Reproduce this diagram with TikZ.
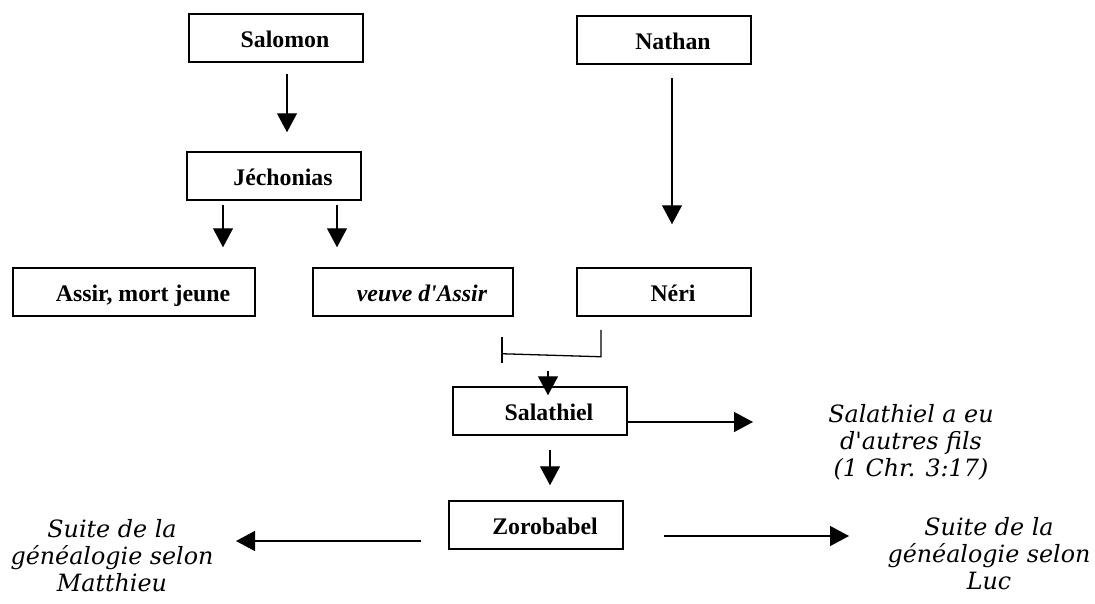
\documentclass[tikz,border=0pt]{standalone}
\usepackage{fontspec}
\newfontfamily\boxfont{Liberation Serif}
\newfontfamily\notefont{DejaVu Serif}
\usetikzlibrary{arrows.meta}
\begin{document}
\begin{tikzpicture}[x=1pt,y=-1pt,
  person/.style={draw, line width=1.5pt, minimum height=48pt, inner sep=0pt,
    font=\boxfont\bfseries\fontsize{23.8}{28}\selectfont,
    text height=18pt, text depth=0pt,
    execute at begin node={\hspace*{18pt}}},
  note/.style={align=center, inner sep=0pt,
    font=\notefont\itshape\fontsize{23.8}{27}\selectfont},
  arr/.style={line width=1.3pt, -{Triangle[width=20pt,length=19pt]}},
  plain/.style={line width=1.3pt}]
\useasboundingbox (0,0) rectangle (1095,603);

\node[person, minimum width=174pt] (salomon)   at (276,38)  {Salomon};
\node[person, minimum width=174pt] (nathan)    at (664,40)  {Nathan};
\node[person, minimum width=174pt] (jechonias) at (274,176) {Jéchonias};
\node[person, minimum width=242pt] (assir)     at (134,292) {Assir, mort jeune};
\node[person, minimum width=200pt] (veuve)     at (413,292) {\itshape veuve d'Assir};
\node[person, minimum width=174pt] (neri)      at (664,292) {Néri};
\node[person, minimum width=174pt] (salathiel) at (540,411) {Salathiel};
\node[person, minimum width=174pt] (zorobabel) at (536,525) {Zorobabel};

\node[note] (autres)   at (911,442) {Salathiel a eu\\d'autres fils\\(1 Chr. 3:17)};
\node[note] (luc)      at (989,554) {Suite de la\\généalogie selon\\Luc};
\node[note] (matthieu) at (112,556) {Suite de la\\généalogie selon\\Matthieu};

\draw[arr] ([shift={(11,11)}]salomon.south) -- ([shift={(13,-19)}]jechonias.north);
\draw[arr] ([shift={(-51,4)}]jechonias.south) -- ([shift={(89,-20)}]assir.north);
\draw[arr] ([shift={(63,4)}]jechonias.south) -- ([shift={(-76,-20)}]veuve.north);
\draw[arr] ([shift={(8,13)}]nathan.south) -- ([shift={(8,-43)}]neri.north);

\draw[plain] ([shift={(-63,13)}]neri.south) -- ([shift={(-63,40)}]neri.south)
  -- ([shift={(89,37)}]veuve.south);
\draw[plain] ([shift={(89,20)}]veuve.south) -- ([shift={(89,46)}]veuve.south);

\draw[arr] ([shift={(8,-15)}]salathiel.north) -- ([shift={(8,9)}]salathiel.north);
\draw[arr] ([shift={(10,14)}]salathiel.south) -- ([shift={(14,-15)}]zorobabel.north);
\draw[arr] ([shift={(0,11)}]salathiel.east) -- ([shift={(-158,-20)}]autres.center);
\draw[arr] ([shift={(-27,16)}]zorobabel.west) -- ([shift={(124,-15)}]matthieu.center);
\draw[arr] ([shift={(40,11)}]zorobabel.east) -- ([shift={(-140,-18)}]luc.center);
\end{tikzpicture}
\end{document}
